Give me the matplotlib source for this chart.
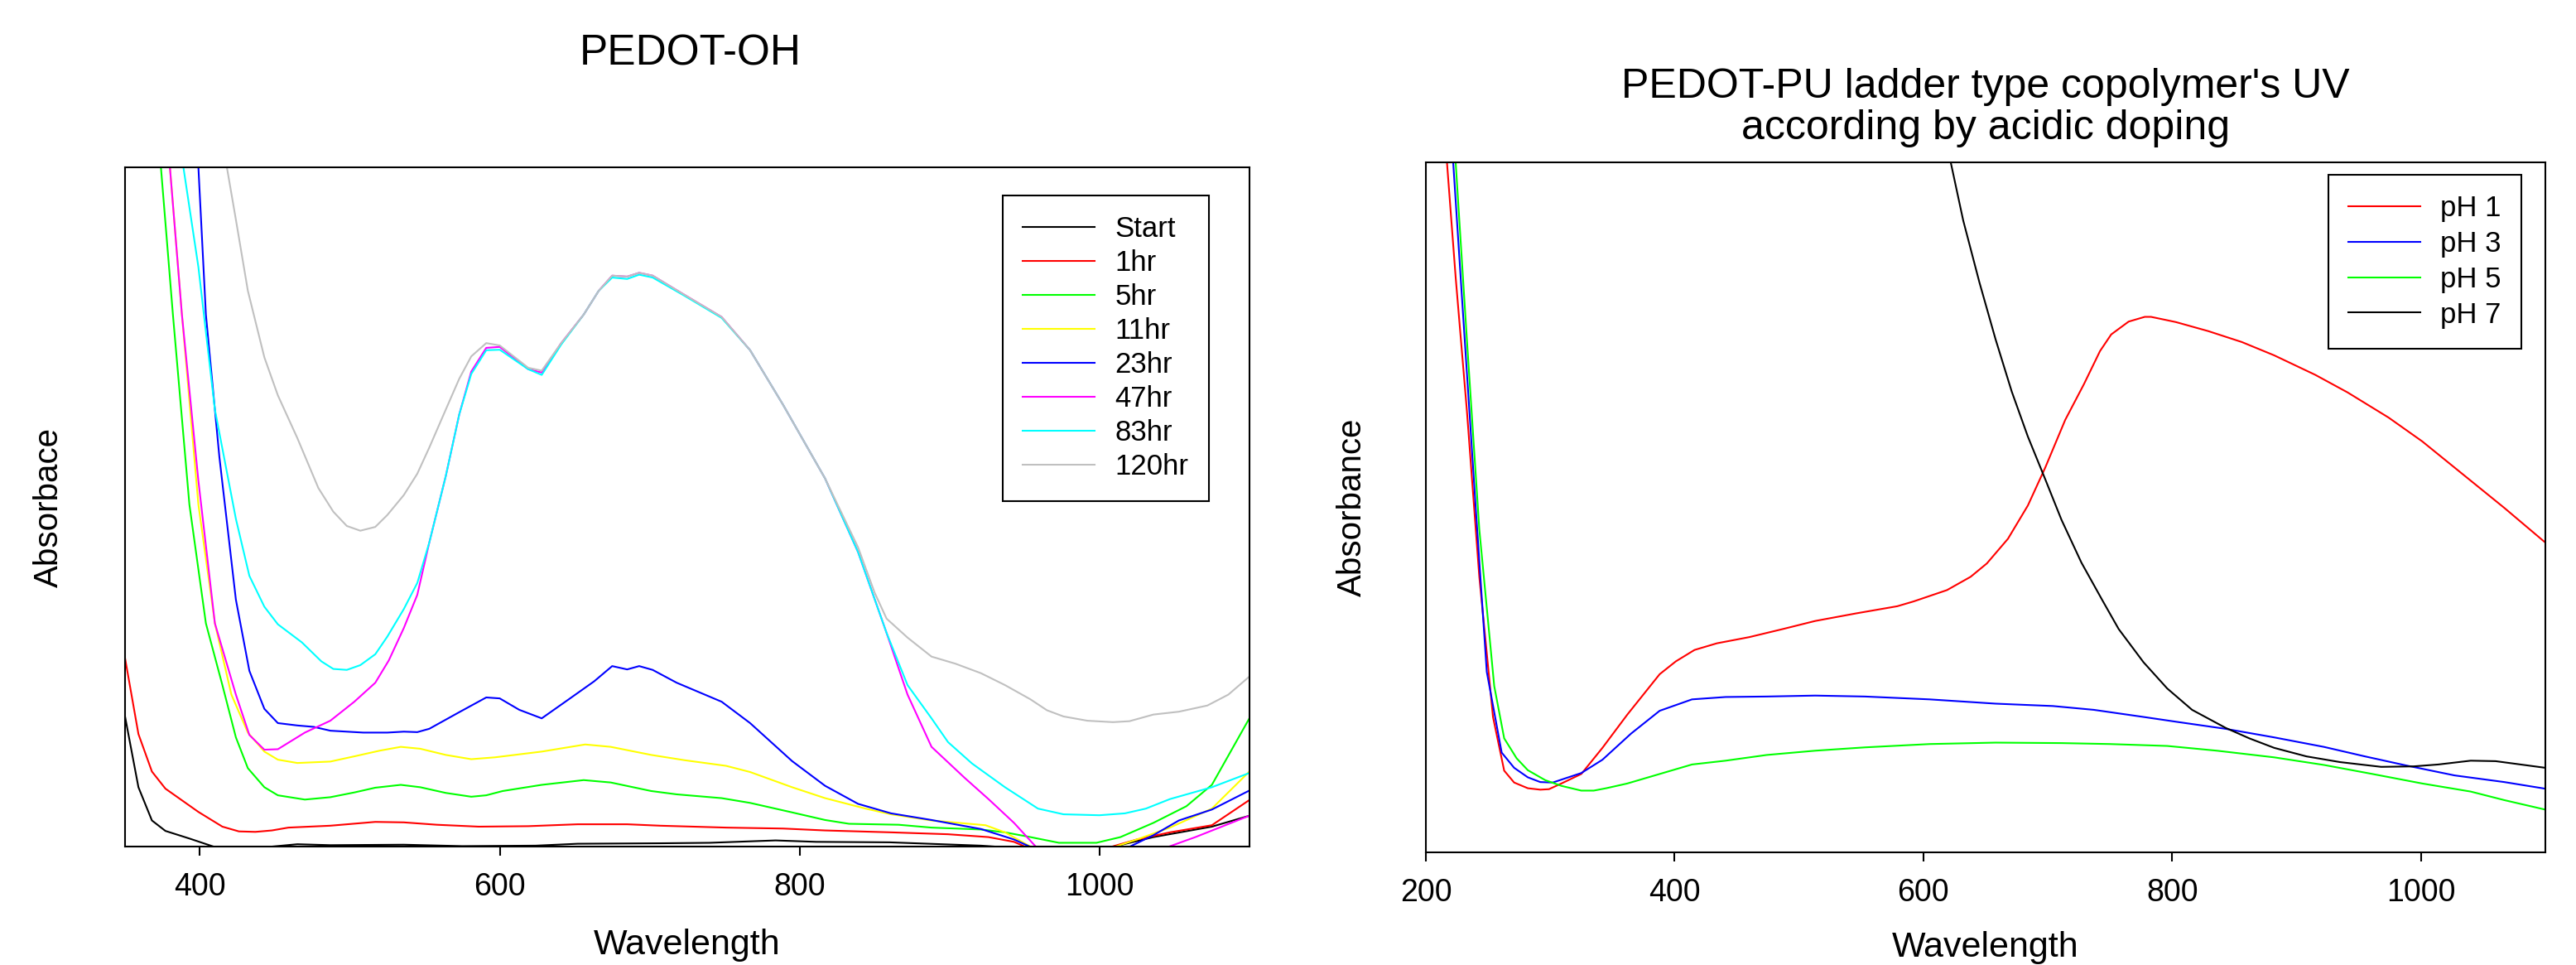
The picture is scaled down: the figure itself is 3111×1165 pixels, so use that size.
import numpy as np
import matplotlib
matplotlib.use('Agg')
import matplotlib.pyplot as plt

plt.rcParams['font.family'] = ['Liberation Sans', 'DejaVu Sans']

# ---- PEDOT-OH (absorbance in arbitrary units) ----
start_wl = [350, 359, 368, 377, 393, 411, 430, 448, 465, 487, 536, 575, 624, 652, 707, 740, 784, 811, 860, 921, 954, 980, 1003, 1036, 1075, 1100]
start_abs = [0.275, 0.125, 0.055, 0.033, 0.017, -0.002, -0.004, 0.0, 0.005, 0.003, 0.004, 0.001, 0.002, 0.006, 0.007, 0.008, 0.013, 0.010, 0.009, 0.002, -0.005, -0.02, -0.005, 0.020, 0.042, 0.065]

hr1_wl = [350, 359, 368, 377, 399, 415, 426, 437, 448, 459, 487, 517, 536, 558, 586, 619, 652, 685, 707, 751, 789, 817, 861, 899, 926, 943, 954, 978, 1003, 1025, 1047, 1075, 1100]
hr1_abs = [0.398, 0.237, 0.158, 0.122, 0.073, 0.042, 0.032, 0.031, 0.034, 0.040, 0.044, 0.052, 0.051, 0.046, 0.042, 0.043, 0.047, 0.047, 0.044, 0.040, 0.038, 0.034, 0.030, 0.026, 0.020, 0.010, -0.005, -0.04, -0.005, 0.015, 0.030, 0.045, 0.098]

hr5_wl = [368, 374, 382, 393, 404, 415, 424, 432, 443, 452, 470, 487, 503, 517, 534, 547, 564, 581, 591, 602, 628, 656, 674, 701, 718, 748, 767, 795, 817, 833, 866, 888, 921, 937, 954, 973, 998, 1014, 1036, 1058, 1075, 1100]
hr5_abs = [1.70, 1.43, 1.12, 0.72, 0.47, 0.34, 0.23, 0.165, 0.125, 0.108, 0.099, 0.104, 0.114, 0.124, 0.130, 0.125, 0.113, 0.105, 0.108, 0.117, 0.130, 0.140, 0.135, 0.117, 0.110, 0.102, 0.092, 0.072, 0.056, 0.048, 0.046, 0.040, 0.036, 0.030, 0.020, 0.008, 0.008, 0.020, 0.050, 0.085, 0.130, 0.270]

hr11_wl = [372, 380, 388, 399, 410, 421, 432, 443, 452, 465, 487, 503, 520, 534, 547, 564, 581, 597, 628, 657, 674, 701, 723, 751, 767, 795, 817, 844, 861, 888, 924, 937, 954, 962, 985, 1003, 1025, 1047, 1075, 1100]
hr11_abs = [1.75, 1.43, 1.12, 0.72, 0.47, 0.32, 0.24, 0.20, 0.183, 0.176, 0.179, 0.190, 0.202, 0.210, 0.206, 0.193, 0.184, 0.188, 0.200, 0.215, 0.210, 0.193, 0.182, 0.170, 0.157, 0.125, 0.102, 0.080, 0.068, 0.055, 0.045, 0.030, 0.000, -0.010, -0.04, -0.008, 0.015, 0.040, 0.080, 0.158]

hr23_wl = [395, 399, 404, 413, 424, 433, 443, 452, 465, 476, 487, 509, 525, 536, 545, 553, 573, 591, 600, 613, 628, 646, 663, 675, 685, 693, 702, 718, 748, 767, 795, 817, 839, 861, 888, 921, 943, 957, 990, 1017, 1036, 1053, 1075, 1100]
hr23_abs = [1.65, 1.43, 1.12, 0.82, 0.52, 0.37, 0.29, 0.26, 0.255, 0.252, 0.244, 0.240, 0.240, 0.242, 0.241, 0.248, 0.283, 0.314, 0.312, 0.288, 0.270, 0.310, 0.348, 0.380, 0.373, 0.380, 0.372, 0.345, 0.305, 0.260, 0.180, 0.128, 0.090, 0.070, 0.056, 0.037, 0.015, -0.005, -0.04, -0.005, 0.024, 0.055, 0.078, 0.118]

hr47_wl = [372, 380, 388, 399, 410, 424, 433, 443, 452, 470, 487, 503, 517, 526, 536, 545, 553, 564, 573, 581, 591, 600, 619, 628, 641, 656, 666, 675, 685, 693, 702, 723, 748, 767, 789, 817, 839, 858, 872, 888, 910, 926, 943, 959, 1000, 1042, 1064, 1080, 1100]
hr47_abs = [1.75, 1.43, 1.12, 0.77, 0.47, 0.32, 0.235, 0.204, 0.205, 0.240, 0.265, 0.305, 0.345, 0.392, 0.460, 0.530, 0.640, 0.780, 0.910, 1.000, 1.050, 1.052, 1.005, 0.998, 1.060, 1.120, 1.170, 1.202, 1.200, 1.208, 1.202, 1.162, 1.115, 1.045, 0.930, 0.775, 0.620, 0.450, 0.320, 0.210, 0.145, 0.100, 0.050, -0.005, -0.06, -0.005, 0.020, 0.040, 0.065]

hr83_wl = [384, 389, 399, 410, 424, 433, 443, 452, 468, 481, 489, 498, 507, 517, 525, 536, 545, 553, 564, 573, 581, 591, 600, 619, 628, 641, 656, 666, 675, 685, 693, 702, 723, 748, 767, 789, 817, 839, 858, 872, 888, 899, 915, 937, 959, 976, 1000, 1017, 1031, 1047, 1075, 1100]
hr83_abs = [1.70, 1.43, 1.22, 0.92, 0.69, 0.57, 0.505, 0.468, 0.430, 0.390, 0.374, 0.372, 0.382, 0.405, 0.442, 0.500, 0.555, 0.640, 0.780, 0.910, 0.995, 1.045, 1.046, 1.005, 0.993, 1.057, 1.120, 1.170, 1.198, 1.195, 1.204, 1.198, 1.160, 1.113, 1.045, 0.930, 0.775, 0.620, 0.450, 0.340, 0.270, 0.220, 0.175, 0.125, 0.080, 0.068, 0.066, 0.070, 0.080, 0.100, 0.125, 0.155]

hr120_wl = [410, 418, 424, 432, 443, 452, 465, 479, 489, 498, 507, 517, 525, 536, 545, 553, 564, 573, 581, 591, 600, 619, 628, 641, 656, 666, 675, 685, 693, 702, 723, 748, 767, 789, 817, 839, 850, 858, 872, 888, 904, 921, 937, 954, 965, 976, 992, 1009, 1020, 1036, 1053, 1072, 1086, 1100]
hr120_abs = [1.60, 1.43, 1.32, 1.17, 1.03, 0.95, 0.86, 0.755, 0.705, 0.675, 0.665, 0.673, 0.698, 0.740, 0.785, 0.840, 0.920, 0.985, 1.032, 1.060, 1.055, 1.008, 1.002, 1.060, 1.120, 1.170, 1.202, 1.200, 1.208, 1.202, 1.162, 1.115, 1.045, 0.930, 0.775, 0.630, 0.535, 0.480, 0.440, 0.400, 0.385, 0.365, 0.340, 0.310, 0.287, 0.274, 0.265, 0.262, 0.264, 0.278, 0.284, 0.297, 0.320, 0.358]

oh_labels = ['Start', '1hr', '5hr', '11hr', '23hr', '47hr', '83hr', '120hr']
oh_colors = ['#000000', '#FF0000', '#00FF00', '#FFFF00', '#0000FF', '#FF00FF', '#00FFFF', '#C0C0C0']
oh_wl = [start_wl, hr1_wl, hr5_wl, hr11_wl, hr23_wl, hr47_wl, hr83_wl, hr120_wl]
oh_abs = [start_abs, hr1_abs, hr5_abs, hr11_abs, hr23_abs, hr47_abs, hr83_abs, hr120_abs]
oh_xticks = [400, 600, 800, 1000]

# ---- PEDOT-PU at different pH ----
ph1_wl = [212, 217, 224, 233, 243, 254, 263, 271, 282, 292, 299, 309, 325, 342, 362, 388, 401, 416, 434, 460, 487, 513, 546, 579, 592, 619, 638, 651, 668, 684, 698, 714, 729, 742, 751, 765, 778, 783, 803, 829, 856, 882, 915, 941, 974, 1001, 1034, 1067, 1100]
ph1_abs = [1.63, 1.452, 1.21, 0.930, 0.580, 0.285, 0.172, 0.147, 0.135, 0.132, 0.133, 0.145, 0.165, 0.220, 0.290, 0.375, 0.402, 0.426, 0.440, 0.453, 0.470, 0.487, 0.503, 0.518, 0.528, 0.552, 0.580, 0.608, 0.660, 0.730, 0.810, 0.910, 0.985, 1.055, 1.090, 1.117, 1.127, 1.127, 1.116, 1.097, 1.074, 1.046, 1.005, 0.968, 0.915, 0.865, 0.795, 0.725, 0.652]

ph3_wl = [217, 222, 230, 240, 249, 261, 271, 282, 292, 302, 325, 342, 365, 388, 414, 441, 474, 513, 553, 605, 658, 704, 737, 777, 803, 843, 882, 922, 955, 988, 1027, 1067, 1100]
ph3_abs = [1.62, 1.452, 1.130, 0.730, 0.380, 0.210, 0.178, 0.158, 0.148, 0.147, 0.167, 0.195, 0.250, 0.298, 0.322, 0.327, 0.328, 0.330, 0.328, 0.322, 0.313, 0.308, 0.300, 0.285, 0.275, 0.260, 0.242, 0.222, 0.202, 0.183, 0.162, 0.148, 0.134]

ph5_wl = [219, 224, 233, 243, 255, 263, 273, 282, 296, 309, 325, 335, 345, 362, 388, 414, 441, 474, 513, 553, 605, 658, 711, 750, 796, 836, 882, 922, 961, 1001, 1040, 1067, 1100]
ph5_abs = [1.62, 1.452, 1.080, 0.680, 0.350, 0.240, 0.198, 0.173, 0.152, 0.140, 0.130, 0.130, 0.135, 0.145, 0.165, 0.185, 0.193, 0.205, 0.214, 0.221, 0.228, 0.231, 0.230, 0.228, 0.224, 0.214, 0.200, 0.184, 0.165, 0.145, 0.128, 0.110, 0.090]

ph7_wl = [612, 622, 632, 645, 658, 671, 684, 698, 711, 727, 744, 757, 777, 796, 816, 843, 862, 882, 908, 935, 968, 994, 1014, 1040, 1060, 1080, 1100]
ph7_abs = [1.60, 1.452, 1.330, 1.200, 1.080, 0.970, 0.875, 0.785, 0.700, 0.610, 0.530, 0.470, 0.400, 0.345, 0.300, 0.262, 0.240, 0.220, 0.202, 0.190, 0.180, 0.181, 0.185, 0.193, 0.192, 0.185, 0.178]

pu_labels = ['pH 1', 'pH 3', 'pH 5', 'pH 7']
pu_colors = ['#FF0000', '#0000FF', '#00FF00', '#000000']
pu_wl = [ph1_wl, ph3_wl, ph5_wl, ph7_wl]
pu_abs = [ph1_abs, ph3_abs, ph5_abs, ph7_abs]
pu_xticks = [200, 400, 600, 800, 1000]

fig = plt.figure(figsize=(31.11, 11.65), dpi=100)
ax1 = fig.add_axes([0.0485, 0.1227, 0.4365, 0.7039])
ax2 = fig.add_axes([0.5535, 0.1167, 0.4346, 0.7150])


def style_axes(ax, xlim, ylim, xticks, ylabel, xlab_y, ylab_x):
  ax.set_xlim(*xlim)
  ax.set_ylim(*ylim)
  ax.set_xticks(xticks)
  ax.set_yticks([])
  ax.tick_params(axis='x', direction='out', length=8, width=1.5, pad=14, labelsize=27)
  for sp in ax.spines.values():
    sp.set_linewidth(1.5)
    sp.set_color('black')
  ax.set_xlabel('Wavelength', fontsize=31)
  ax.xaxis.set_label_coords(0.5, xlab_y)
  ax.xaxis.label.set_va('center')
  ax.set_ylabel(ylabel, fontsize=29)
  ax.yaxis.set_label_coords(ylab_x, 0.5)
  ax.yaxis.label.set_va('center')


def add_legend(ax, anchor, spacing):
  leg = ax.legend(loc='upper left', bbox_to_anchor=anchor, fontsize=25,
                  frameon=True, fancybox=False, framealpha=1, edgecolor='black',
                  borderpad=0.7, borderaxespad=0, handlelength=2.5,
                  handletextpad=0.7, labelspacing=spacing)
  leg.get_frame().set_linewidth(1.5)


for wl, ab, lab, col in zip(oh_wl, oh_abs, oh_labels, oh_colors):
  ax1.plot(wl, ab, color=col, lw=1.5, label=lab)
style_axes(ax1, (350, 1100), (0, 1.43), oh_xticks, 'Absorbace', -0.145, -0.068)
add_legend(ax1, (0.7806, 0.9585), 0.23)

for wl, ab, lab, col in zip(pu_wl, pu_abs, pu_labels, pu_colors):
  ax2.plot(wl, ab, color=col, lw=1.5, label=lab)
style_axes(ax2, (200, 1100), (0, 1.452), pu_xticks, 'Absorbance', -0.138, -0.066)
add_legend(ax2, (0.806, 0.982), 0.28)

fig.text(0.2681, 0.944, 'PEDOT-OH', fontsize=37, ha='center', va='center')
fig.text(0.7708, 0.8885, "PEDOT-PU ladder type copolymer's UV\naccording by acidic doping",
         fontsize=36, ha='center', va='center', linespacing=1.1)

fig.savefig('out.png', dpi=100)
